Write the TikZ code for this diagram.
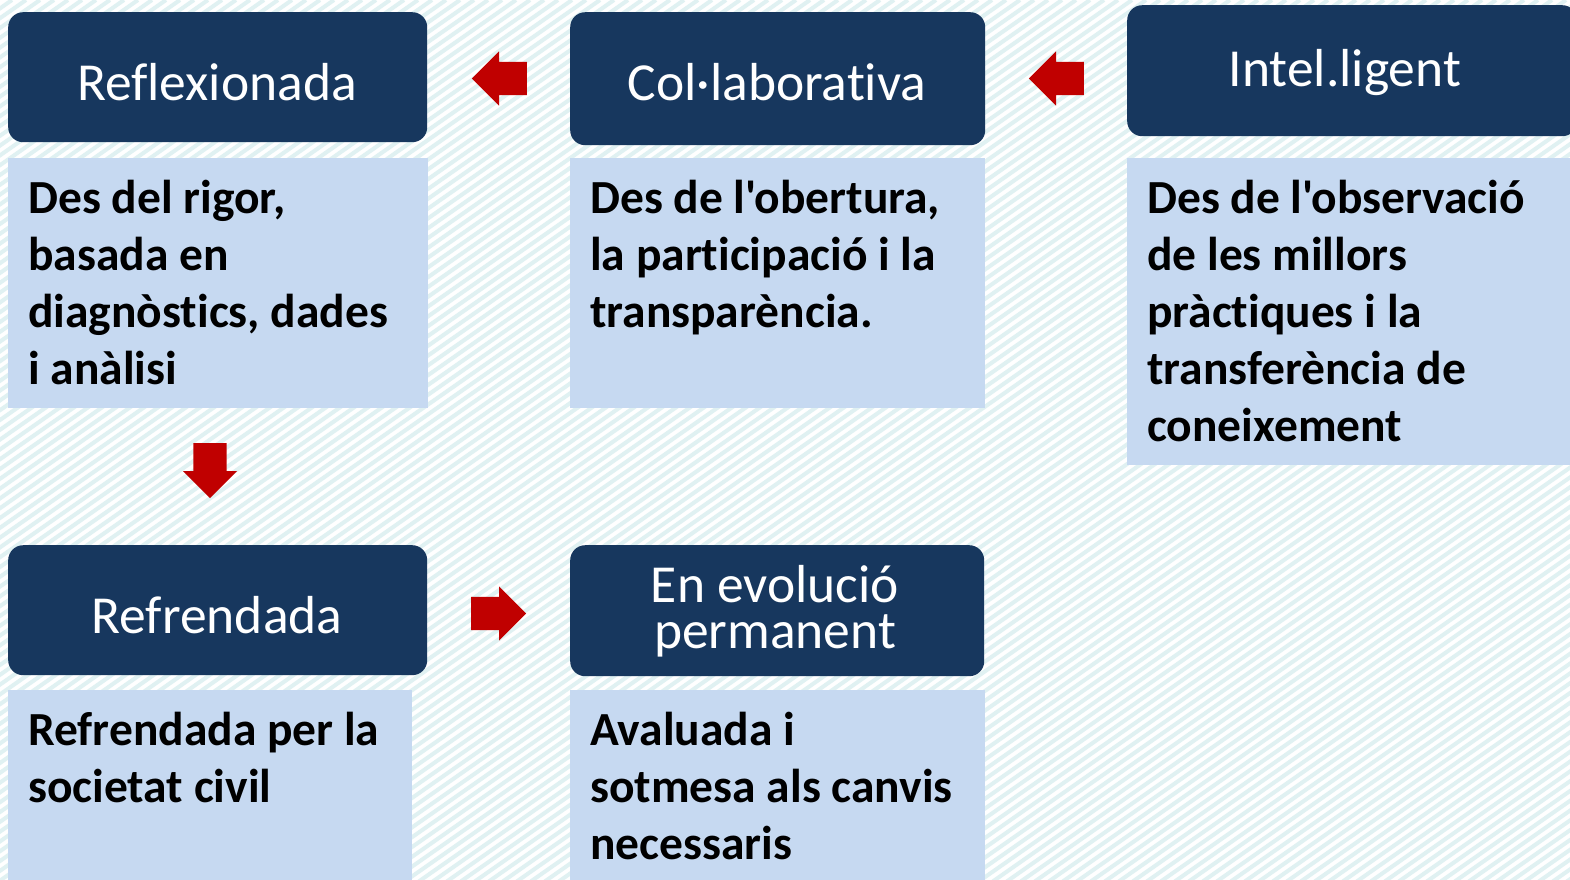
\documentclass[tikz,border=0pt]{standalone}
\usepackage{fontspec}
\newfontfamily\calibri{Carlito}[Ligatures=CommonOff]
\usetikzlibrary{shapes.arrows}
\definecolor{navy}{RGB}{23,55,94}
\definecolor{lightblue}{RGB}{198,217,241}
\definecolor{arrowred}{RGB}{192,0,0}
\definecolor{stripe}{RGB}{224,241,242}
\tikzset{
  darkbox/.style={fill=navy, rounded corners=15pt, inner sep=0pt, anchor=north west},
  lightbox/.style={fill=lightblue, inner sep=0pt, anchor=north west},
  titletext/.style={text=white, font=\calibri\fontsize{53.5}{46}\selectfont, align=center, inner sep=0pt, anchor=base},
  bodytext/.style={text=black, font=\calibri\bfseries\fontsize{47.5}{57}\selectfont, align=left, inner sep=0pt, anchor=north west},
  blockarrow/.style={single arrow, fill=arrowred, inner sep=0pt, minimum height=55pt,
    single arrow head extend=10.5pt, single arrow tip angle=90, anchor=tail},
}
\begin{document}
\begin{tikzpicture}[x=1pt,y=-1pt]
\useasboundingbox (0,0) rectangle (1570,879);
% striped background
\begin{scope}
\clip (0,0) rectangle (1570,879);
\fill[white] (0,0) rectangle (1570,879);
\foreach \i in {-1300,-1286,...,1580} {
  \draw[stripe, line width=4pt] (\i,889) -- ({\i+1270},0);
}
\end{scope}
% top row
\node[darkbox, minimum width=419pt, minimum height=130pt] (t1) at (8,12) {};
\node[darkbox, minimum width=415pt, minimum height=133pt] (t2) at (570,12) {};
\node[darkbox, minimum width=450pt, minimum height=131pt] (t3) at (1127,5) {};
\node[titletext] (l1) at (217,100) {Reflexionada};
\node[titletext] (l2) at (777,100) {Col·laborativa};
\node[titletext] (l3) at (1345,86) {Intel.ligent};
\node[lightbox, minimum width=420pt, minimum height=250pt] (b1) at (8,158) {};
\node[lightbox, minimum width=415pt, minimum height=250pt] (b2) at (570,158) {};
\node[lightbox, minimum width=450pt, minimum height=307pt] (b3) at (1127,158) {};
\node[bodytext] (x1) at (28,173) {\strut Des del rigor,\\basada en\\diagnòstics, dades\\i anàlisi};
\node[bodytext] (x2) at (590,173) {\strut Des de l'obertura,\\la participació i la\\transparència.};
\node[bodytext] (x3) at (1147,173) {\strut Des de l'observació\\de les millors\\pràctiques i la\\transferència de\\coneixement};
% bottom row
\node[darkbox, minimum width=419pt, minimum height=130pt] (t4) at (8,545) {};
\node[darkbox, minimum width=414pt, minimum height=131pt] (t5) at (570,545) {};
\node[titletext] (l4) at (217,633) {Refrendada};
\node[titletext, anchor=base] (l5) at (775,648) {En evolució\\permanent};
\node[lightbox, minimum width=404pt, minimum height=200pt] (b4) at (8,690) {};
\node[lightbox, minimum width=415pt, minimum height=200pt] (b5) at (570,690) {};
\node[bodytext] (x4) at (28,705) {\strut Refrendada per la\\societat civil};
\node[bodytext] (x5) at (590,705) {\strut Avaluada i\\sotmesa als canvis\\necessaris};
% block arrows
\node[blockarrow, rotate=180] (a1) at (527,78.5) {\rule{0pt}{33pt}};
\node[blockarrow, rotate=180] (a2) at (1084,78.5) {\rule{0pt}{33pt}};
\node[blockarrow, rotate=-90] (a3) at (210,443) {\rule{0pt}{33pt}};
\node[blockarrow] (a4) at (471,613.5) {\rule{0pt}{33pt}};
\end{tikzpicture}
\end{document}
